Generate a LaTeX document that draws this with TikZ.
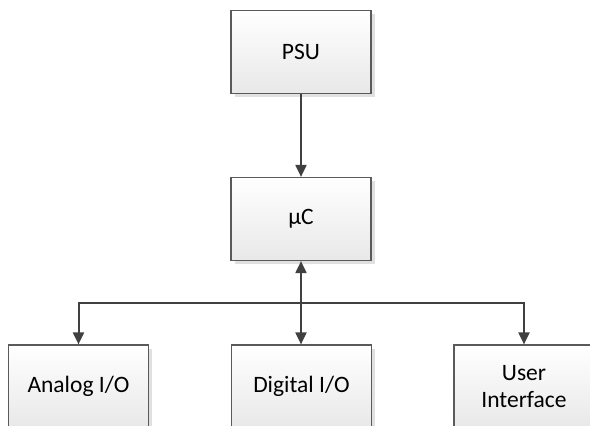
\documentclass[tikz,border=0pt]{standalone}
\usepackage{fontspec}
\setmainfont{Carlito}
\usetikzlibrary{arrows.meta,shadows}
\definecolor{wire}{HTML}{404040}
\definecolor{frame}{HTML}{5A5A5A}
\tikzset{
  block/.style={draw=frame, line width=1.2pt, minimum width=140pt, minimum height=83pt,
    inner sep=0pt, align=center, font=\fontsize{23.5}{27}\selectfont,
    top color=white, bottom color=black!9,
    drop shadow={shadow xshift=3.5pt, shadow yshift=-3.5pt, fill=black!12, opacity=1}},
  conn/.style={draw=wire, line width=2pt, -{Triangle[length=12pt,width=11pt]}},
  dconn/.style={draw=wire, line width=2pt, {Triangle[length=12pt,width=11pt]}-{Triangle[length=12pt,width=11pt]}}
}
\begin{document}
\begin{tikzpicture}[x=1pt, y=-1pt]
  \useasboundingbox (0,0) rectangle (590,426);
  % blocks
  \node[block] (psu) at (301,52)  {PSU};
  \node[block] (mc)  at (301,219) {µC};
  \node[block] (ana) at (78.5,386.5)  {Analog I/O};
  \node[block] (dig) at (301.5,386.5) {Digital I/O};
  \node[block] (ui)  at (524,386.5) {User\\Interface};
  % bus junction
  \coordinate (bus) at (301,303);
  % connectors
  \draw[conn] (psu.south) -- (mc.north);
  \draw[dconn] (mc.south) -- (mc.south |- dig.north);
  \draw[conn] (bus) -| (ana.north);
  \draw[conn] (bus) -| (ui.north);
\end{tikzpicture}
\end{document}
